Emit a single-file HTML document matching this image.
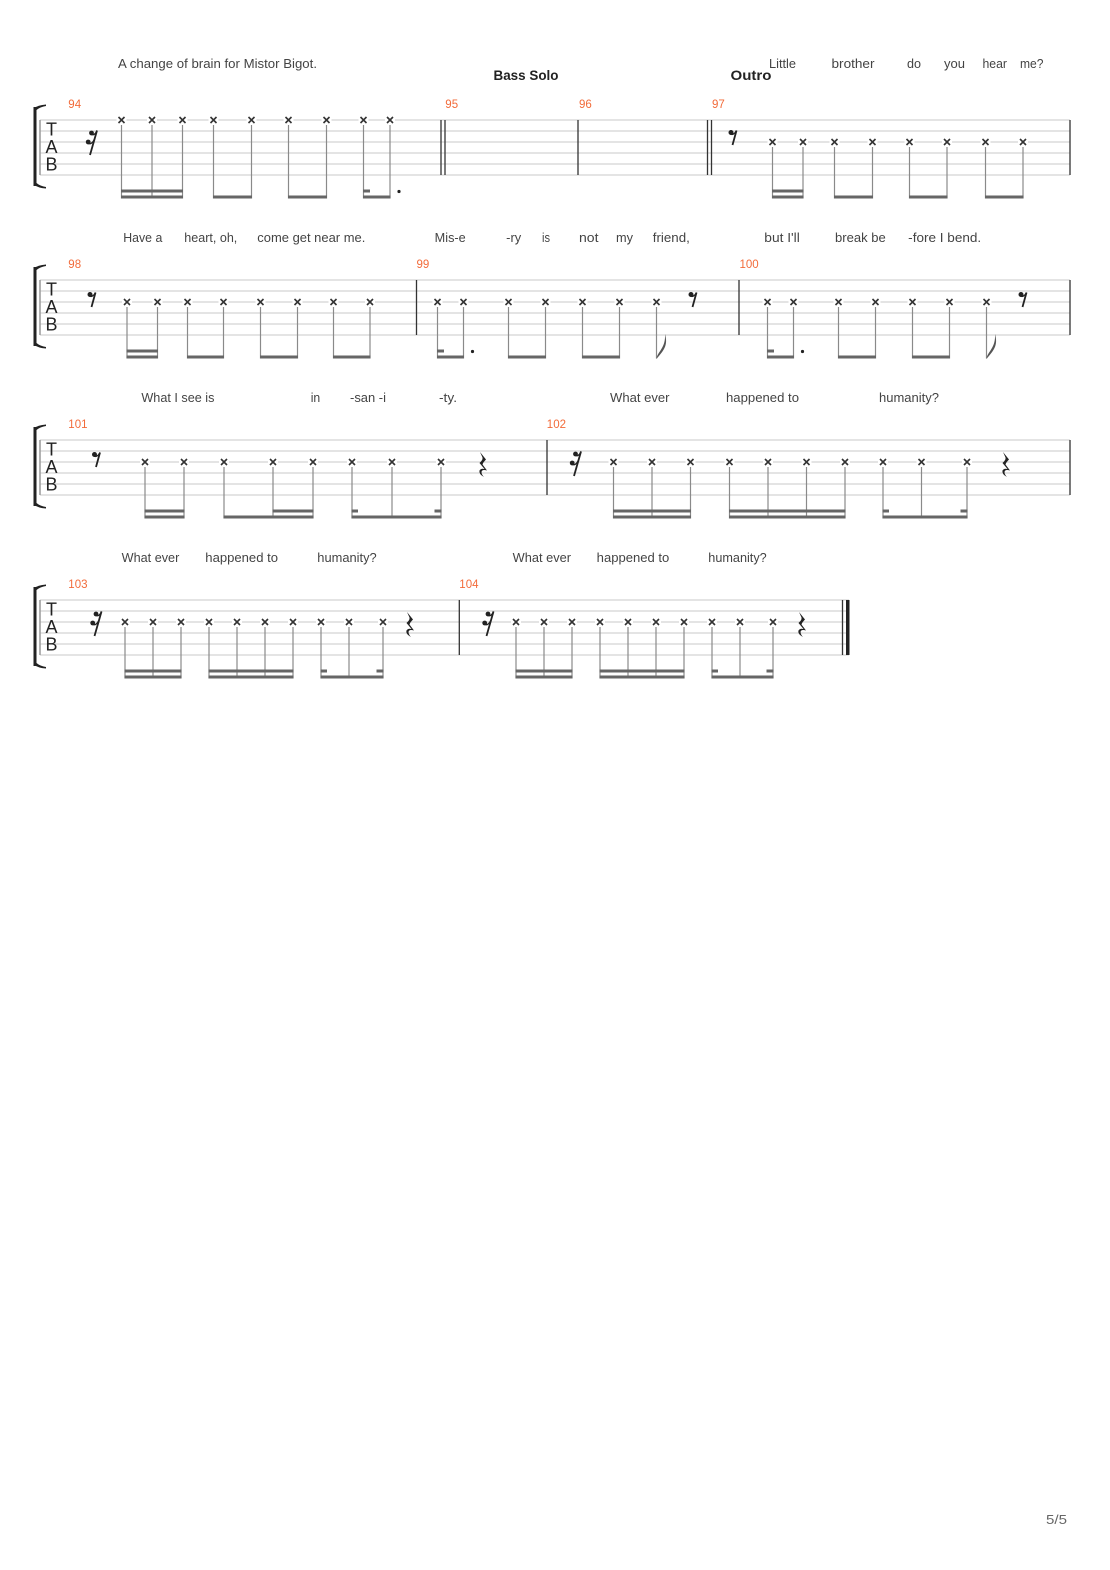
<!DOCTYPE html>
<html><head><meta charset="utf-8"><style>
html,body{margin:0;padding:0;background:#fff;}
svg{display:block;}
.ly{font-family:"Liberation Sans",sans-serif;font-size:12.5px;fill:#444;}
.mn{font-family:"Liberation Sans",sans-serif;font-size:11.5px;fill:#f26b3a;}
.hd{font-family:"Liberation Sans",sans-serif;font-size:14px;font-weight:bold;fill:#222;}
.tab{font-family:"Liberation Sans",sans-serif;font-size:18px;fill:#222;}
.st line{stroke:#c8c8c8;stroke-width:1;}
.bl{stroke:#333;stroke-width:1.3;}
.sm line{stroke:#8a8a8a;stroke-width:1.2;}
.bm rect{fill:#666;}
</style></head><body>
<svg width="1110" height="1570" viewBox="0 0 1110 1570" xmlns="http://www.w3.org/2000/svg">
<defs>
<g id="xm"><rect x="-5" y="-4" width="10" height="8" fill="#fff"/><path d="M-3,-3L3,3M3,-3L-3,3" stroke="#333" stroke-width="1.6"/></g>
<g id="br" fill="#222"><rect x="33.5" y="-13" width="3" height="79"/><path d="M33.5,-11.5 Q38,-15 46,-15.5 L46,-14 Q40,-13 36.5,-10 Z"/><path d="M33.5,64.5 Q38,68 46,68.5 L46,67 Q40,66 36.5,63 Z"/></g>
<g id="r8" fill="#222"><path d="M0.5,-0.5 L-3.5,14" stroke="#222" stroke-width="1.8" fill="none"/><circle cx="-5" cy="1.5" r="2.5"/><path d="M-6,2.8 Q-2.5,5 0.5,-0.5" stroke="#222" stroke-width="1.3" fill="none"/></g>
<g id="r16" fill="#222"><path d="M0.5,-0.5 L-6.5,24" stroke="#222" stroke-width="1.8" fill="none"/><circle cx="-5" cy="2" r="2.4"/><path d="M-6,3 Q-2,5.5 0.5,-0.5" stroke="#222" stroke-width="1.3" fill="none"/><circle cx="-8.3" cy="11" r="2.4"/><path d="M-9.3,12 Q-5,14.5 -2.3,8.5" stroke="#222" stroke-width="1.3" fill="none"/></g>
<g id="r4"><path fill="#222" d="M1,0 L7,7.5 Q4,10.5 3.5,12.5 L8,18.5 Q3,17 2.5,20 Q2.5,22.5 5,25 Q-0.5,22 0.5,18.5 Q2,16 5.5,17 L0.5,11 Q4,8 3.5,5.5 Z"/></g>
</defs>

<!-- ================= SYSTEM 1 ================= -->
<text class="ly" x="118" y="68" textLength="199" lengthAdjust="spacingAndGlyphs">A change of brain for Mistor Bigot.</text>
<text class="hd" x="493.5" y="80" textLength="65" lengthAdjust="spacingAndGlyphs">Bass Solo</text>
<text class="hd" x="730.5" y="80" textLength="41" lengthAdjust="spacingAndGlyphs">Outro</text>
<text class="ly" x="769" y="68" textLength="27" lengthAdjust="spacingAndGlyphs">Little</text>
<text class="ly" x="831.5" y="68" textLength="43" lengthAdjust="spacingAndGlyphs">brother</text>
<text class="ly" x="907" y="68" textLength="14" lengthAdjust="spacingAndGlyphs">do</text>
<text class="ly" x="944" y="68" textLength="21" lengthAdjust="spacingAndGlyphs">you</text>
<text class="ly" x="982.5" y="68" textLength="24.5" lengthAdjust="spacingAndGlyphs">hear</text>
<text class="ly" x="1020" y="68" textLength="23.5" lengthAdjust="spacingAndGlyphs">me?</text>

<text class="mn" x="68.3" y="108">94</text>
<text class="mn" x="445.3" y="108">95</text>
<text class="mn" x="579" y="108">96</text>
<text class="mn" x="712" y="108">97</text>

<g class="st"><line x1="40" y1="120" x2="1070" y2="120"/><line x1="40" y1="131" x2="1070" y2="131"/><line x1="40" y1="142" x2="1070" y2="142"/><line x1="40" y1="153" x2="1070" y2="153"/><line x1="40" y1="164" x2="1070" y2="164"/><line x1="40" y1="175" x2="1070" y2="175"/></g>
<line x1="40" y1="120" x2="40" y2="175" stroke="#999" stroke-width="1.5"/>
<use href="#br" transform="translate(0,120)"/>
<text class="tab" x="51.5" y="135.5" text-anchor="middle">T</text>
<text class="tab" x="51.5" y="153" text-anchor="middle">A</text>
<text class="tab" x="51.5" y="170.5" text-anchor="middle">B</text>
<g class="bl"><line x1="441" y1="120" x2="441" y2="175"/><line x1="445" y1="120" x2="445" y2="175"/><line x1="578" y1="120" x2="578" y2="175"/><line x1="707.5" y1="120" x2="707.5" y2="175"/><line x1="711.5" y1="120" x2="711.5" y2="175"/><line x1="1070" y1="120" x2="1070" y2="175"/></g>

<use href="#r16" transform="translate(96.5,131)"/>
<use href="#r8" transform="translate(736,131)"/>

<use href="#xm" x="121.5" y="120"/><use href="#xm" x="152" y="120"/><use href="#xm" x="182.5" y="120"/><use href="#xm" x="213.5" y="120"/><use href="#xm" x="251.5" y="120"/><use href="#xm" x="288.5" y="120"/><use href="#xm" x="326.5" y="120"/><use href="#xm" x="363.5" y="120"/><use href="#xm" x="390" y="120"/>
<use href="#xm" x="772.5" y="142"/><use href="#xm" x="803" y="142"/><use href="#xm" x="834.5" y="142"/><use href="#xm" x="872.5" y="142"/><use href="#xm" x="909.5" y="142"/><use href="#xm" x="947" y="142"/><use href="#xm" x="985.5" y="142"/><use href="#xm" x="1023" y="142"/>
<g class="sm">
<line x1="121.5" y1="125" x2="121.5" y2="198.5"/><line x1="152" y1="125" x2="152" y2="198.5"/><line x1="182.5" y1="125" x2="182.5" y2="198.5"/><line x1="213.5" y1="125" x2="213.5" y2="198.5"/><line x1="251.5" y1="125" x2="251.5" y2="198.5"/><line x1="288.5" y1="125" x2="288.5" y2="198.5"/><line x1="326.5" y1="125" x2="326.5" y2="198.5"/><line x1="363.5" y1="125" x2="363.5" y2="198.5"/><line x1="390" y1="125" x2="390" y2="198.5"/>
<line x1="772.5" y1="147" x2="772.5" y2="198.5"/><line x1="803" y1="147" x2="803" y2="198.5"/><line x1="834.5" y1="147" x2="834.5" y2="198.5"/><line x1="872.5" y1="147" x2="872.5" y2="198.5"/><line x1="909.5" y1="147" x2="909.5" y2="198.5"/><line x1="947" y1="147" x2="947" y2="198.5"/><line x1="985.5" y1="147" x2="985.5" y2="198.5"/><line x1="1023" y1="147" x2="1023" y2="198.5"/>
</g>
<g class="bm">
<rect x="121" y="189.5" width="62" height="3"/><rect x="363" y="189.5" width="7" height="3"/>
<rect x="121" y="195.5" width="62" height="3"/><rect x="213" y="195.5" width="39" height="3"/><rect x="288" y="195.5" width="39" height="3"/><rect x="363" y="195.5" width="27.5" height="3"/>
<rect x="772" y="189.5" width="31.5" height="3"/>
<rect x="772" y="195.5" width="31.5" height="3"/><rect x="834" y="195.5" width="39" height="3"/><rect x="909" y="195.5" width="38.5" height="3"/><rect x="985" y="195.5" width="38.5" height="3"/>
</g>
<circle cx="399" cy="191.5" r="1.6" fill="#222"/>

<!-- ================= SYSTEM 2 ================= -->
<text class="ly" x="123.3" y="242" textLength="39" lengthAdjust="spacingAndGlyphs">Have a</text>
<text class="ly" x="184.3" y="242" textLength="53" lengthAdjust="spacingAndGlyphs">heart, oh,</text>
<text class="ly" x="257.3" y="242" textLength="108" lengthAdjust="spacingAndGlyphs">come get near me.</text>
<text class="ly" x="434.7" y="242" textLength="31" lengthAdjust="spacingAndGlyphs">Mis-e</text>
<text class="ly" x="506.2" y="242" textLength="15" lengthAdjust="spacingAndGlyphs">-ry</text>
<text class="ly" x="542" y="242" textLength="8" lengthAdjust="spacingAndGlyphs">is</text>
<text class="ly" x="579" y="242" textLength="19.5" lengthAdjust="spacingAndGlyphs">not</text>
<text class="ly" x="616" y="242" textLength="17" lengthAdjust="spacingAndGlyphs">my</text>
<text class="ly" x="652.8" y="242" textLength="37" lengthAdjust="spacingAndGlyphs">friend,</text>
<text class="ly" x="764.3" y="242" textLength="35.5" lengthAdjust="spacingAndGlyphs">but I'll</text>
<text class="ly" x="835" y="242" textLength="50.7" lengthAdjust="spacingAndGlyphs">break be</text>
<text class="ly" x="908.2" y="242" textLength="73" lengthAdjust="spacingAndGlyphs">-fore I bend.</text>

<text class="mn" x="68.3" y="268">98</text>
<text class="mn" x="416.5" y="268">99</text>
<text class="mn" x="739.5" y="268">100</text>

<g class="st"><line x1="40" y1="280" x2="1070" y2="280"/><line x1="40" y1="291" x2="1070" y2="291"/><line x1="40" y1="302" x2="1070" y2="302"/><line x1="40" y1="313" x2="1070" y2="313"/><line x1="40" y1="324" x2="1070" y2="324"/><line x1="40" y1="335" x2="1070" y2="335"/></g>
<line x1="40" y1="280" x2="40" y2="335" stroke="#999" stroke-width="1.5"/>
<use href="#br" transform="translate(0,280)"/>
<text class="tab" x="51.5" y="295.5" text-anchor="middle">T</text>
<text class="tab" x="51.5" y="313" text-anchor="middle">A</text>
<text class="tab" x="51.5" y="330.5" text-anchor="middle">B</text>
<g class="bl"><line x1="416.5" y1="280" x2="416.5" y2="335"/><line x1="739" y1="280" x2="739" y2="335"/><line x1="1070" y1="280" x2="1070" y2="335"/></g>

<use href="#r8" transform="translate(95,293)"/>
<use href="#r8" transform="translate(696,293)"/>
<use href="#r8" transform="translate(1026,293)"/>

<use href="#xm" x="127" y="302"/><use href="#xm" x="157.5" y="302"/><use href="#xm" x="187.5" y="302"/><use href="#xm" x="223.5" y="302"/><use href="#xm" x="260.5" y="302"/><use href="#xm" x="297.5" y="302"/><use href="#xm" x="333.5" y="302"/><use href="#xm" x="370" y="302"/>
<use href="#xm" x="437.5" y="302"/><use href="#xm" x="463.5" y="302"/><use href="#xm" x="508.5" y="302"/><use href="#xm" x="545.5" y="302"/><use href="#xm" x="582.5" y="302"/><use href="#xm" x="619.5" y="302"/><use href="#xm" x="656.5" y="302"/>
<use href="#xm" x="767.5" y="302"/><use href="#xm" x="793.5" y="302"/><use href="#xm" x="838.5" y="302"/><use href="#xm" x="875.5" y="302"/><use href="#xm" x="912.5" y="302"/><use href="#xm" x="949.5" y="302"/><use href="#xm" x="986.5" y="302"/>
<g class="sm">
<line x1="127" y1="307" x2="127" y2="358.5"/><line x1="157.5" y1="307" x2="157.5" y2="358.5"/><line x1="187.5" y1="307" x2="187.5" y2="358.5"/><line x1="223.5" y1="307" x2="223.5" y2="358.5"/><line x1="260.5" y1="307" x2="260.5" y2="358.5"/><line x1="297.5" y1="307" x2="297.5" y2="358.5"/><line x1="333.5" y1="307" x2="333.5" y2="358.5"/><line x1="370" y1="307" x2="370" y2="358.5"/>
<line x1="437.5" y1="307" x2="437.5" y2="358.5"/><line x1="463.5" y1="307" x2="463.5" y2="358.5"/><line x1="508.5" y1="307" x2="508.5" y2="358.5"/><line x1="545.5" y1="307" x2="545.5" y2="358.5"/><line x1="582.5" y1="307" x2="582.5" y2="358.5"/><line x1="619.5" y1="307" x2="619.5" y2="358.5"/><line x1="656.5" y1="307" x2="656.5" y2="358.5"/>
<line x1="767.5" y1="307" x2="767.5" y2="358.5"/><line x1="793.5" y1="307" x2="793.5" y2="358.5"/><line x1="838.5" y1="307" x2="838.5" y2="358.5"/><line x1="875.5" y1="307" x2="875.5" y2="358.5"/><line x1="912.5" y1="307" x2="912.5" y2="358.5"/><line x1="949.5" y1="307" x2="949.5" y2="358.5"/><line x1="986.5" y1="307" x2="986.5" y2="358.5"/>
</g>
<g class="bm">
<rect x="126.5" y="349.5" width="31.5" height="3"/>
<rect x="126.5" y="355.5" width="31.5" height="3"/><rect x="187" y="355.5" width="37" height="3"/><rect x="260" y="355.5" width="38" height="3"/><rect x="333" y="355.5" width="37.5" height="3"/>
<rect x="437" y="349.5" width="7" height="3"/>
<rect x="437" y="355.5" width="27" height="3"/><rect x="508" y="355.5" width="38" height="3"/><rect x="582" y="355.5" width="38" height="3"/>
<rect x="767" y="349.5" width="7" height="3"/>
<rect x="767" y="355.5" width="27" height="3"/><rect x="838" y="355.5" width="38" height="3"/><rect x="912" y="355.5" width="38" height="3"/>
</g>
<circle cx="472.5" cy="351.5" r="1.6" fill="#222"/>
<circle cx="802.5" cy="351.5" r="1.6" fill="#222"/>
<path d="M656.5,359 C657,352 666,348 665,334 C668.5,346 663,351 656.5,359 Z" fill="#555"/>
<path d="M986.5,359 C987,352 996,348 995,334 C998.5,346 993,351 986.5,359 Z" fill="#555"/>

<!-- ================= SYSTEM 3 ================= -->
<text class="ly" x="141.4" y="402" textLength="73" lengthAdjust="spacingAndGlyphs">What I see is</text>
<text class="ly" x="310.7" y="402" textLength="9.5" lengthAdjust="spacingAndGlyphs">in</text>
<text class="ly" x="350" y="402" textLength="36" lengthAdjust="spacingAndGlyphs">-san -i</text>
<text class="ly" x="439" y="402" textLength="18" lengthAdjust="spacingAndGlyphs">-ty.</text>
<text class="ly" x="610" y="402" textLength="59.5" lengthAdjust="spacingAndGlyphs">What ever</text>
<text class="ly" x="726" y="402" textLength="73" lengthAdjust="spacingAndGlyphs">happened to</text>
<text class="ly" x="879" y="402" textLength="60" lengthAdjust="spacingAndGlyphs">humanity?</text>

<text class="mn" x="68.3" y="428">101</text>
<text class="mn" x="546.8" y="428">102</text>

<g class="st"><line x1="40" y1="440" x2="1070" y2="440"/><line x1="40" y1="451" x2="1070" y2="451"/><line x1="40" y1="462" x2="1070" y2="462"/><line x1="40" y1="473" x2="1070" y2="473"/><line x1="40" y1="484" x2="1070" y2="484"/><line x1="40" y1="495" x2="1070" y2="495"/></g>
<line x1="40" y1="440" x2="40" y2="495" stroke="#999" stroke-width="1.5"/>
<use href="#br" transform="translate(0,440)"/>
<text class="tab" x="51.5" y="455.5" text-anchor="middle">T</text>
<text class="tab" x="51.5" y="473" text-anchor="middle">A</text>
<text class="tab" x="51.5" y="490.5" text-anchor="middle">B</text>
<g class="bl"><line x1="547" y1="440" x2="547" y2="495"/><line x1="1070" y1="440" x2="1070" y2="495"/></g>

<use href="#r8" transform="translate(99.5,453)"/>
<use href="#r4" transform="translate(479,452)"/>
<use href="#r16" transform="translate(580.5,452)"/>
<use href="#r4" transform="translate(1002,452)"/>

<use href="#xm" x="145" y="462"/><use href="#xm" x="184" y="462"/><use href="#xm" x="224" y="462"/><use href="#xm" x="273" y="462"/><use href="#xm" x="313" y="462"/><use href="#xm" x="352" y="462"/><use href="#xm" x="392" y="462"/><use href="#xm" x="441" y="462"/>
<use href="#xm" x="613.5" y="462"/><use href="#xm" x="652" y="462"/><use href="#xm" x="690.5" y="462"/><use href="#xm" x="729.5" y="462"/><use href="#xm" x="768" y="462"/><use href="#xm" x="806.5" y="462"/><use href="#xm" x="845" y="462"/><use href="#xm" x="883" y="462"/><use href="#xm" x="921.5" y="462"/><use href="#xm" x="967" y="462"/>
<g class="sm">
<line x1="145" y1="467" x2="145" y2="518.5"/><line x1="184" y1="467" x2="184" y2="518.5"/><line x1="224" y1="467" x2="224" y2="518.5"/><line x1="273" y1="467" x2="273" y2="518.5"/><line x1="313" y1="467" x2="313" y2="518.5"/><line x1="352" y1="467" x2="352" y2="518.5"/><line x1="392" y1="467" x2="392" y2="518.5"/><line x1="441" y1="467" x2="441" y2="518.5"/>
<line x1="613.5" y1="467" x2="613.5" y2="518.5"/><line x1="652" y1="467" x2="652" y2="518.5"/><line x1="690.5" y1="467" x2="690.5" y2="518.5"/><line x1="729.5" y1="467" x2="729.5" y2="518.5"/><line x1="768" y1="467" x2="768" y2="518.5"/><line x1="806.5" y1="467" x2="806.5" y2="518.5"/><line x1="845" y1="467" x2="845" y2="518.5"/><line x1="883" y1="467" x2="883" y2="518.5"/><line x1="921.5" y1="467" x2="921.5" y2="518.5"/><line x1="967" y1="467" x2="967" y2="518.5"/>
</g>
<g class="bm">
<rect x="144.5" y="509.5" width="40" height="3"/><rect x="272.5" y="509.5" width="41" height="3"/><rect x="351.5" y="509.5" width="6.5" height="3"/><rect x="434.5" y="509.5" width="7" height="3"/>
<rect x="144.5" y="515.5" width="40" height="3"/><rect x="223.5" y="515.5" width="90" height="3"/><rect x="351.5" y="515.5" width="90" height="3"/>
<rect x="613" y="509.5" width="78" height="3"/><rect x="729" y="509.5" width="116.5" height="3"/><rect x="882.5" y="509.5" width="6.5" height="3"/><rect x="960.5" y="509.5" width="7" height="3"/>
<rect x="613" y="515.5" width="78" height="3"/><rect x="729" y="515.5" width="116.5" height="3"/><rect x="882.5" y="515.5" width="85" height="3"/>
</g>

<!-- ================= SYSTEM 4 ================= -->
<text class="ly" x="121.7" y="562" textLength="57.6" lengthAdjust="spacingAndGlyphs">What ever</text>
<text class="ly" x="205.3" y="562" textLength="72.7" lengthAdjust="spacingAndGlyphs">happened to</text>
<text class="ly" x="317.3" y="562" textLength="59.4" lengthAdjust="spacingAndGlyphs">humanity?</text>
<text class="ly" x="512.7" y="562" textLength="58.3" lengthAdjust="spacingAndGlyphs">What ever</text>
<text class="ly" x="596.7" y="562" textLength="72.6" lengthAdjust="spacingAndGlyphs">happened to</text>
<text class="ly" x="708.3" y="562" textLength="58.4" lengthAdjust="spacingAndGlyphs">humanity?</text>

<text class="mn" x="68.3" y="588">103</text>
<text class="mn" x="459.3" y="588">104</text>

<g class="st"><line x1="40" y1="600" x2="849" y2="600"/><line x1="40" y1="611" x2="849" y2="611"/><line x1="40" y1="622" x2="849" y2="622"/><line x1="40" y1="633" x2="849" y2="633"/><line x1="40" y1="644" x2="849" y2="644"/><line x1="40" y1="655" x2="849" y2="655"/></g>
<line x1="40" y1="600" x2="40" y2="655" stroke="#999" stroke-width="1.5"/>
<use href="#br" transform="translate(0,600)"/>
<text class="tab" x="51.5" y="615.5" text-anchor="middle">T</text>
<text class="tab" x="51.5" y="633" text-anchor="middle">A</text>
<text class="tab" x="51.5" y="650.5" text-anchor="middle">B</text>
<g class="bl"><line x1="459.3" y1="600" x2="459.3" y2="655"/><line x1="842.5" y1="600" x2="842.5" y2="655"/></g>
<rect x="846" y="600" width="3.5" height="55" fill="#222"/>

<use href="#r16" transform="translate(101,612)"/>
<use href="#r4" transform="translate(406,612)"/>
<use href="#r16" transform="translate(493,612)"/>
<use href="#r4" transform="translate(798,612)"/>

<use href="#xm" x="125" y="622"/><use href="#xm" x="153" y="622"/><use href="#xm" x="181" y="622"/><use href="#xm" x="209" y="622"/><use href="#xm" x="237" y="622"/><use href="#xm" x="265" y="622"/><use href="#xm" x="293" y="622"/><use href="#xm" x="321" y="622"/><use href="#xm" x="349" y="622"/><use href="#xm" x="383" y="622"/>
<use href="#xm" x="516" y="622"/><use href="#xm" x="544" y="622"/><use href="#xm" x="572" y="622"/><use href="#xm" x="600" y="622"/><use href="#xm" x="628" y="622"/><use href="#xm" x="656" y="622"/><use href="#xm" x="684" y="622"/><use href="#xm" x="712" y="622"/><use href="#xm" x="740" y="622"/><use href="#xm" x="773" y="622"/>
<g class="sm">
<line x1="125" y1="627" x2="125" y2="678.5"/><line x1="153" y1="627" x2="153" y2="678.5"/><line x1="181" y1="627" x2="181" y2="678.5"/><line x1="209" y1="627" x2="209" y2="678.5"/><line x1="237" y1="627" x2="237" y2="678.5"/><line x1="265" y1="627" x2="265" y2="678.5"/><line x1="293" y1="627" x2="293" y2="678.5"/><line x1="321" y1="627" x2="321" y2="678.5"/><line x1="349" y1="627" x2="349" y2="678.5"/><line x1="383" y1="627" x2="383" y2="678.5"/>
<line x1="516" y1="627" x2="516" y2="678.5"/><line x1="544" y1="627" x2="544" y2="678.5"/><line x1="572" y1="627" x2="572" y2="678.5"/><line x1="600" y1="627" x2="600" y2="678.5"/><line x1="628" y1="627" x2="628" y2="678.5"/><line x1="656" y1="627" x2="656" y2="678.5"/><line x1="684" y1="627" x2="684" y2="678.5"/><line x1="712" y1="627" x2="712" y2="678.5"/><line x1="740" y1="627" x2="740" y2="678.5"/><line x1="773" y1="627" x2="773" y2="678.5"/>
</g>
<g class="bm">
<rect x="124.5" y="669.5" width="57" height="3"/><rect x="208.5" y="669.5" width="85" height="3"/><rect x="320.5" y="669.5" width="6.5" height="3"/><rect x="376.5" y="669.5" width="7" height="3"/>
<rect x="124.5" y="675.5" width="57" height="3"/><rect x="208.5" y="675.5" width="85" height="3"/><rect x="320.5" y="675.5" width="63" height="3"/>
<rect x="515.5" y="669.5" width="57" height="3"/><rect x="599.5" y="669.5" width="85" height="3"/><rect x="711.5" y="669.5" width="6.5" height="3"/><rect x="766.5" y="669.5" width="7" height="3"/>
<rect x="515.5" y="675.5" width="57" height="3"/><rect x="599.5" y="675.5" width="85" height="3"/><rect x="711.5" y="675.5" width="62" height="3"/>
</g>

<!-- page number -->
<text x="1046" y="1524" font-family="'Liberation Sans',sans-serif" font-size="12.5" fill="#666" textLength="21" lengthAdjust="spacingAndGlyphs">5/5</text>
</svg>
</body></html>
